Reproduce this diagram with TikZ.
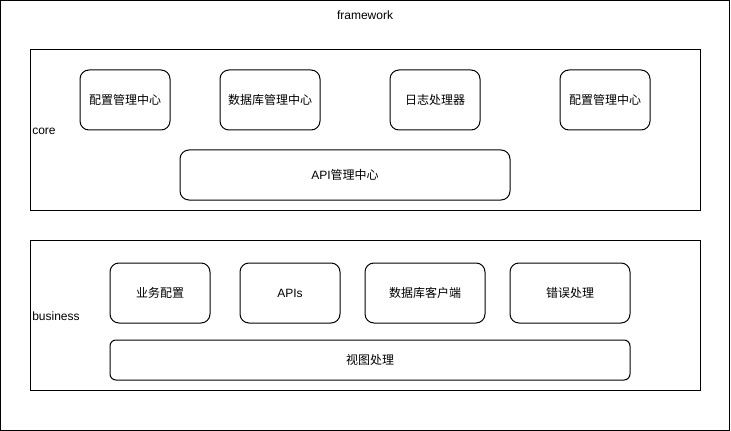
\documentclass[tikz,border=0pt]{standalone}
\usepackage{fontspec}
\setmainfont{Liberation Sans}
\newfontfamily\cjk{Noto Sans CJK SC}
\begin{document}
\begin{tikzpicture}[x=0.75pt,y=-0.75pt,
  every node/.style={font=\fontsize{9pt}{11pt}\selectfont, inner sep=0pt},
  frame/.style={draw, line width=0.75pt},
  rbox/.style={draw, line width=0.75pt, rounded corners=6.75pt},
  rboxs/.style={draw, line width=0.75pt, rounded corners=4.5pt},
  lbl/.style={anchor=west}]
\useasboundingbox (0,0) rectangle (731,431);
\fill[white] (0,0) rectangle (731,431);
% outer frame
\draw[frame] (0.5,0.5) rectangle (729.5,430);
\node (fw) at (365,15) {framework};
% core
\draw[frame] (30,50) rectangle (700,210);
\node[lbl] (corel) at (32,131) {core};
\draw[rbox] (80,70) rectangle (170,130);
\node (c1) at (125,100) {\cjk 配置管理中心};
\draw[rbox] (220,70) rectangle (320,130);
\node (c2) at (270,100) {\cjk 数据库管理中心};
\draw[rbox] (390,70) rectangle (480,130);
\node (c3) at (435,100) {\cjk 日志处理器};
\draw[rbox] (560,70) rectangle (650,130);
\node (c4) at (605,100) {\cjk 配置管理中心};
\draw[rbox] (180,150) rectangle (510,200);
\node (api) at (345,175) {API{\cjk 管理中心}};
% business
\draw[frame] (30,240) rectangle (700,390);
\node[lbl] (busl) at (32,316) {business};
\draw[rbox] (110,263) rectangle (210,323);
\node (b1) at (160,293) {\cjk 业务配置};
\draw[rbox] (240,263) rectangle (340,323);
\node (b2) at (290,293) {APIs};
\draw[rbox] (365,263) rectangle (485,323);
\node (b3) at (425,293) {\cjk 数据库客户端};
\draw[rbox] (510,263) rectangle (630,323);
\node (b4) at (570,293) {\cjk 错误处理};
\draw[rboxs] (110,340) rectangle (630,380);
\node (b5) at (370,360) {\cjk 视图处理};
\end{tikzpicture}
\end{document}
